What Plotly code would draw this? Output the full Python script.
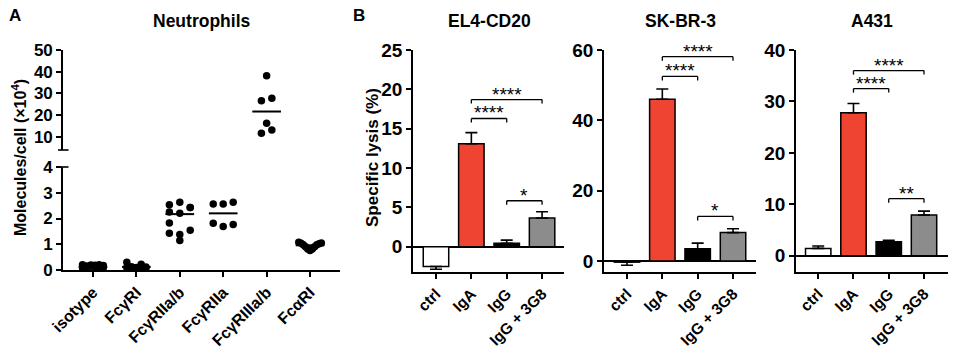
import plotly.graph_objects as go

# ---------------- data ----------------
receptors = ["isotype", "FcγRI", "FcγRIIa/b", "FcγRIIa", "FcγRIIIa/b", "FcαRI"]
isotype_vals = [0.20, 0.16, 0.19, 0.12, 0.09, 0.10, 0.08, 0.12, 0.15, 0.18, 0.20, 0.17]
fcgr1_vals = [0.30, 0.12, 0.10, 0.22, 0.08, 0.10, 0.12, 0.08, 0.14, 0.12]
fcgr2ab_vals = [2.53, 2.63, 2.43, 1.83, 2.20, 2.43, 1.43, 1.15, 1.54, 2.25, 1.38]
fcgr2a_vals = [2.56, 2.56, 2.63, 1.82, 1.69, 1.77]
fcgr3ab_vals = [26.7, 38.1, 27.8, 11.7, 16.3, 13.2]
fcar_vals = [1.08, 1.04, 0.98, 0.90, 0.82, 0.76, 0.82, 0.90, 0.98, 1.02, 1.05]
center_lines = [0.12, 0.12, 2.17, 2.20, 21.7, 0.96]

conditions = ["ctrl", "IgA", "IgG", "IgG + 3G8"]
el4_mean = [-2.5, 13.1, 0.45, 3.65]
el4_err = [0.35, 1.4, 0.4, 0.8]
skbr3_mean = [-0.3, 46.0, 3.5, 8.1]
skbr3_err = [0.9, 2.9, 1.6, 1.1]
a431_mean = [1.44, 27.8, 2.73, 7.94]
a431_err = [0.45, 1.8, 0.27, 0.75]

# significance comparisons: (from, to, height, label)
el4_sig = [(1, 3, 18.7, "****"), (1, 2, 16.3, "****"), (2, 3, 5.85, "*")]
skbr3_sig = [(1, 3, 58.1, "****"), (1, 2, 52.5, "****"), (2, 3, 12.7, "*")]
a431_sig = [(1, 3, 36.0, "****"), (1, 2, 32.5, "****"), (2, 3, 11.1, "**")]

# ---------------- style ----------------
W, H = 959, 349
FONT = "Liberation Sans"
bar_colors = ["white", "#EE4431", "black", "#8C8C8C"]
spread = [0.24, 0.22, 0.24, 0.23, 0.12, 0.26]
ncols = [6, 5, 3, 3, 3, 11]


def fx(px):
    return px / W


def fy(py):
    return 1 - py / H


fig = go.Figure()

# ---------------- panel A ----------------
all_vals = [isotype_vals, fcgr1_vals, fcgr2ab_vals, fcgr2a_vals, fcgr3ab_vals, fcar_vals]
for i, vals in enumerate(all_vals):
    nc = ncols[i]
    half = (nc - 1) / 2
    xs = [i + spread[i] * (((k % nc) - half) / half) for k in range(len(vals))]
    ya = "y2" if i == 4 else "y"
    fig.add_trace(go.Scatter(
        x=xs, y=vals, mode="markers", xaxis="x", yaxis=ya,
        marker=dict(color="black", size=7.5), cliponaxis=False, showlegend=False))
    fig.add_trace(go.Scatter(
        x=[i - 0.33, i + 0.33], y=[center_lines[i]] * 2, mode="lines",
        xaxis="x", yaxis=ya, line=dict(color="black", width=2),
        cliponaxis=False, showlegend=False))

axis_common = dict(showline=True, linecolor="black", linewidth=1.6, ticks="outside",
                   ticklen=5, tickwidth=1.6, tickcolor="black", showgrid=False,
                   zeroline=False, automargin=False)

fig.update_layout(
    xaxis=dict(domain=[fx(63), fx(340)], range=[-0.69, 5.69], anchor="y",
               tickmode="array", tickvals=list(range(6)), ticktext=receptors,
               tickangle=-45, tickfont=dict(family=FONT, size=16, color="black", weight="bold"),
               **axis_common),
    yaxis=dict(domain=[fy(270), fy(167)], range=[0, 4], anchor="x",
               tickvals=[0, 1, 2, 3, 4],
               tickfont=dict(family=FONT, size=17, color="black", weight="bold"),
               **axis_common),
    yaxis2=dict(domain=[fy(150), fy(50)], range=[4, 50], anchor="x",
                tickvals=[10, 20, 30, 40, 50],
                tickfont=dict(family=FONT, size=17, color="black", weight="bold"),
                **axis_common),
)

shapes = []
# axis break marks
for py in (150, 167):
    shapes.append(dict(type="line", xref="paper", yref="paper",
                       x0=fx(58), x1=fx(68.5), y0=fy(py), y1=fy(py),
                       line=dict(color="black", width=1.6)))

# ---------------- panel B ----------------
panels = [
    ("x3", "y3", el4_mean, el4_err, el4_sig, [413, 564], [-0.65, 3.62], [-3.2, 25], [0, 5, 10, 15, 20, 25]),
    ("x4", "y4", skbr3_mean, skbr3_err, skbr3_sig, [604, 756], [-0.65, 3.65], [-3.1, 60], [0, 20, 40, 60]),
    ("x5", "y5", a431_mean, a431_err, a431_sig, [796, 948], [-0.63, 3.68], [-3.15, 40], [0, 10, 20, 30, 40]),
]

for xa, ya, means, errs, sigs, xdom, xr, yr, ytv in panels:
    up = [e if m >= 0 else 0 for m, e in zip(means, errs)]
    down = [e if m < 0 else 0 for m, e in zip(means, errs)]
    fig.add_trace(go.Bar(
        x=list(range(4)), y=means, xaxis=xa, yaxis=ya, width=0.72,
        marker=dict(color=bar_colors, line=dict(color="black", width=1.5)),
        error_y=dict(type="data", symmetric=False, array=up, arrayminus=down,
                     color="black", thickness=1.6, width=6),
        showlegend=False))
    xkey = "xaxis" + xa[1:]
    ykey = "yaxis" + ya[1:]
    fig.update_layout({
        xkey: dict(domain=[fx(xdom[0]), fx(xdom[1])], range=xr, anchor=ya,
                   tickmode="array", tickvals=list(range(4)), ticktext=conditions,
                   tickangle=-45,
                   tickfont=dict(family=FONT, size=15.5, color="black", weight="bold"),
                   **axis_common),
        ykey: dict(domain=[fy(272), fy(50)], range=yr, anchor=xa, tickvals=ytv,
                   tickfont=dict(family=FONT, size=19, color="black", weight="bold"),
                   **{**axis_common, "zeroline": True, "zerolinecolor": "black",
                      "zerolinewidth": 1.6}),
    })
    for a, b, h, lab in sigs:
        shapes.append(dict(type="line", xref=xa, yref=ya, x0=a, x1=b, y0=h, y1=h,
                           line=dict(color="black", width=1.3)))
        for xe in (a, b):
            shapes.append(dict(type="line", xref=xa, yref=ya, x0=xe, x1=xe,
                               ysizemode="pixel", yanchor=h, y0=0, y1=-4,
                               line=dict(color="black", width=1.3)))
        fig.add_annotation(x=(a + b) / 2, y=h, xref=xa, yref=ya, text=lab,
                           showarrow=False, yanchor="bottom", yshift=-7,
                           font=dict(family=FONT, size=19, color="black"))

fig.update_layout(shapes=shapes)

# ---------------- titles & labels ----------------
ann = [
    dict(text="A", x=fx(15), y=fy(15), size=17),
    dict(text="B", x=fx(359), y=fy(15), size=17),
    dict(text="Neutrophils", x=fx(201), y=fy(21), size=17.5),
    dict(text="EL4-CD20", x=fx(489), y=fy(21), size=17.5),
    dict(text="SK-BR-3", x=fx(680), y=fy(21), size=17.5),
    dict(text="A431", x=fx(872), y=fy(21), size=17.5),
]
for a in ann:
    fig.add_annotation(text=a["text"], x=a["x"], y=a["y"], xref="paper", yref="paper",
                       showarrow=False, xanchor="center", yanchor="middle",
                       font=dict(family=FONT, size=a["size"], color="black", weight="bold"))

fig.add_annotation(text="Molecules/cell (×10<sup>4</sup>)", x=fx(19), y=fy(158),
                   xref="paper", yref="paper", showarrow=False, textangle=-90,
                   xanchor="center", yanchor="middle",
                   font=dict(family=FONT, size=16, color="black", weight="bold"))
fig.add_annotation(text="Specific lysis (%)", x=fx(372), y=fy(158),
                   xref="paper", yref="paper", showarrow=False, textangle=-90,
                   xanchor="center", yanchor="middle",
                   font=dict(family=FONT, size=17, color="black", weight="bold"))

fig.update_layout(template="none", width=W, height=H, margin=dict(l=0, r=0, t=0, b=0, pad=0),
                  paper_bgcolor="white", plot_bgcolor="white", bargap=0.3)

fig.write_html("out.html", config={"displayModeBar": False},
               post_script="document.body.style.margin='0';document.body.style.overflow='hidden';")
